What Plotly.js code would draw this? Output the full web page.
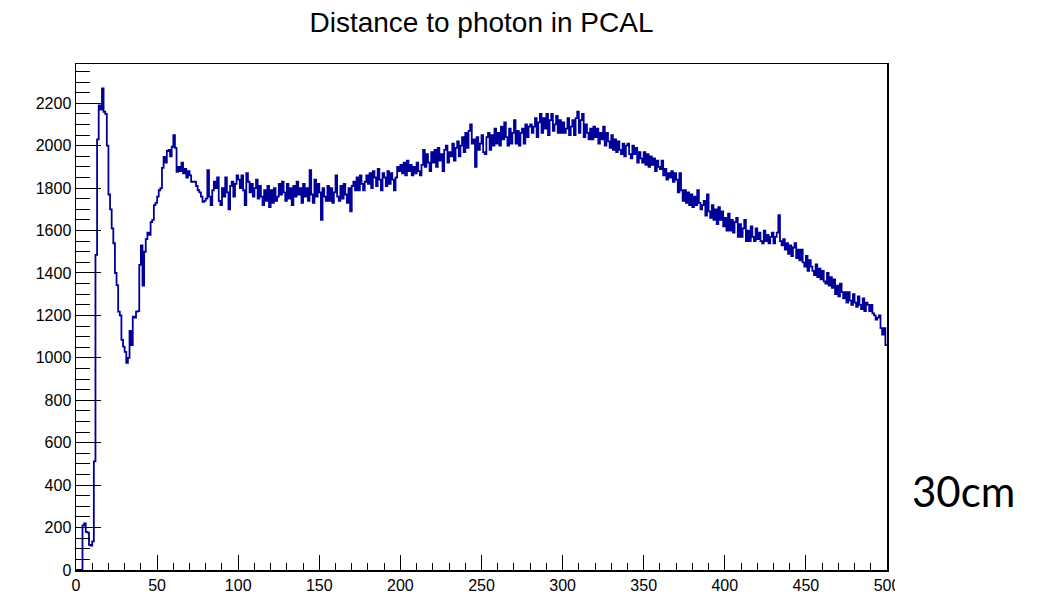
<!DOCTYPE html>
<html>
<head>
<meta charset="utf-8">
<script src="https://cdn.plot.ly/plotly-3.0.1.min.js"></script>
<style>
  html, body { margin: 0; padding: 0; background: #ffffff; }
  #chart { width: 1040px; height: 596px; }
</style>
</head>
<body>
<div id="chart"></div>
<script>
// Histogram "Distance to photon in PCAL": 500 bins from 0 to 500
const chartTitle = "Distance to photon in PCAL";
const sideNote = "30cm";
const binLow = 0;
const binWidth = 1;
const counts = [
  0,0,0,0,210,220,180,176,118,115,135,512,1485,2030,2190,2170,2270,2160,2150,2000,
  1770,1700,1610,1540,1400,1343,1218,1200,1085,1053,1028,976,1000,1127,1060,1194,1190,1218,1220,1438,
  1530,1340,1500,1560,1590,1580,1640,1650,1720,1730,1760,1790,1800,1895,1947,1920,1975,1980,1950,1995,
  2050,1990,1877,1900,1880,1920,1870,1890,1850,1880,1860,1830,1830,1830,1810,1790,1780,1760,1735,1740,
  1750,1885,1760,1720,1790,1830,1800,1850,1740,1720,1800,1760,1850,1780,1700,1810,1830,1760,1820,1860,
  1840,1800,1860,1790,1720,1870,1830,1780,1820,1760,1800,1840,1750,1810,1760,1720,1790,1740,1810,1710,
  1790,1730,1800,1740,1760,1820,1770,1830,1780,1740,1820,1750,1800,1720,1810,1760,1830,1770,1800,1730,
  1820,1760,1800,1740,1885,1770,1730,1840,1760,1820,1780,1650,1800,1760,1740,1810,1740,1800,1730,1780,
  1860,1760,1740,1810,1750,1820,1770,1730,1800,1690,1810,1830,1790,1850,1790,1860,1820,1790,1830,1860,
  1820,1870,1800,1880,1850,1810,1890,1840,1790,1870,1850,1810,1880,1820,1870,1840,1790,1850,1900,1880,
  1910,1870,1920,1860,1930,1880,1910,1860,1900,1870,1920,1880,1860,1910,1980,1900,1960,1920,1880,1970,
  1920,1980,1900,1990,1930,1960,1880,1980,2000,1920,1970,1950,2010,1930,1990,2020,1950,2000,2040,1970,
  2060,1990,2070,2100,2010,2030,1900,2040,1980,2010,2050,1970,1960,2040,2060,1980,2050,2000,2080,2010,
  2060,2000,2090,2030,2110,2040,2000,2080,2010,2060,2120,2010,2070,2000,2060,2080,2010,2100,2040,2090,
  2100,2060,2090,2130,2040,2110,2150,2060,2130,2080,2150,2050,2120,2150,2070,2100,2140,2060,2120,2060,
  2110,2060,2080,2130,2050,2090,2120,2050,2130,2160,2060,2120,2150,2040,2100,2060,2030,2080,2030,2090,
  2040,2080,2010,2060,2030,2090,2000,2060,2020,1990,2050,1980,2030,1970,2020,1980,1960,2010,1950,2000,
  2010,1960,1940,2000,1960,1990,1920,1970,1940,1920,1970,1910,1960,1900,1950,1910,1940,1880,1930,1900,
  1890,1930,1860,1890,1840,1870,1850,1880,1830,1870,1840,1780,1870,1790,1740,1790,1730,1780,1720,1770,
  1710,1760,1720,1790,1730,1700,1720,1740,1670,1770,1690,1660,1720,1650,1700,1630,1710,1650,1690,1620,
  1660,1600,1680,1600,1650,1590,1640,1660,1570,1630,1570,1610,1650,1550,1600,1550,1620,1570,1550,1610,
  1560,1590,1550,1540,1600,1550,1580,1540,1570,1590,1540,1570,1590,1673,1550,1530,1560,1510,1540,1490,
  1530,1480,1520,1540,1470,1510,1460,1510,1450,1430,1480,1410,1460,1430,1410,1390,1440,1380,1420,1370,
  1410,1360,1350,1400,1340,1380,1330,1370,1300,1340,1290,1350,1310,1280,1310,1260,1310,1270,1250,1300,
  1260,1240,1290,1250,1230,1280,1220,1260,1250,1220,1250,1210,1200,1180,1190,1200,1140,1110,1140,1060
];
const xTickVals = [0, 50, 100, 150, 200, 250, 300, 350, 400, 450, 500];
const xTickText = ["0", "50", "100", "150", "200", "250", "300", "350", "400", "450", "500"];
const yTickVals = [0, 200, 400, 600, 800, 1000, 1200, 1400, 1600, 1800, 2000, 2200];
const yTickText = ["0", "200", "400", "600", "800", "1000", "1200", "1400", "1600", "1800", "2000", "2200"];

// step outline: left bin edges + final right edge
const edgesX = counts.map((_, i) => binLow + i * binWidth);
edgesX.push(binLow + counts.length * binWidth);
const stepY = counts.slice();
stepY.push(counts[counts.length - 1]);

const trace = {
  type: "scatter",
  mode: "lines",
  x: edgesX,
  y: stepY,
  line: { shape: "hv", color: "#000099", width: 1.8 },
  hoverinfo: "x+y"
};

const axisFont = { family: "Liberation Sans, Arial, sans-serif", size: 16, color: "#000000" };

const layout = {
  width: 1040,
  height: 596,
  paper_bgcolor: "#ffffff",
  plot_bgcolor: "#ffffff",
  margin: { l: 76, r: 153, t: 64, b: 26 },
  showlegend: false,
  title: {
    text: chartTitle,
    x: 0.5,
    xref: "paper",
    xanchor: "center",
    y: 1 - 22 / 596,
    yref: "container",
    yanchor: "middle",
    font: { family: "Liberation Sans, Arial, sans-serif", size: 28, color: "#000000" }
  },
  xaxis: {
    range: [0, 500],
    tickmode: "array",
    tickvals: xTickVals,
    ticktext: xTickText,
    ticks: "inside",
    ticklen: 15,
    tickwidth: 1,
    tickcolor: "#000000",
    minor: { ticks: "inside", dtick: 10, ticklen: 7, tickwidth: 1, tickcolor: "#000000", showgrid: false },
    showgrid: false,
    zeroline: false,
    showline: true,
    mirror: true,
    linecolor: "#000000",
    linewidth: 1.5,
    tickfont: axisFont,
    fixedrange: true
  },
  yaxis: {
    range: [0, 2385],
    tickmode: "array",
    tickvals: yTickVals,
    ticktext: yTickText,
    ticks: "inside",
    ticklen: 25,
    tickwidth: 1,
    tickcolor: "#000000",
    minor: { ticks: "inside", dtick: 50, ticklen: 14, tickwidth: 1, tickcolor: "#000000", showgrid: false },
    showgrid: false,
    zeroline: false,
    showline: true,
    mirror: true,
    linecolor: "#000000",
    linewidth: 1.5,
    tickfont: axisFont,
    fixedrange: true
  },
  shapes: [
    {
      type: "rect",
      xref: "paper",
      yref: "paper",
      x0: (895 - 76) / 811,
      x1: (940 - 76) / 811,
      y0: -26 / 506.5,
      y1: -3 / 506.5,
      fillcolor: "#ffffff",
      line: { width: 0 },
      layer: "above"
    }
  ],
  annotations: [
    {
      text: sideNote,
      xref: "paper",
      yref: "paper",
      x: (910 - 76) / 811,
      y: (570.5 - 491) / 506.5,
      xanchor: "left",
      yanchor: "middle",
      showarrow: false,
      font: { family: "Lato, Carlito, sans-serif", size: 42, color: "#000000" }
    }
  ]
};

Plotly.newPlot("chart", [trace], layout, { displayModeBar: false, staticPlot: true });
</script>
</body>
</html>
